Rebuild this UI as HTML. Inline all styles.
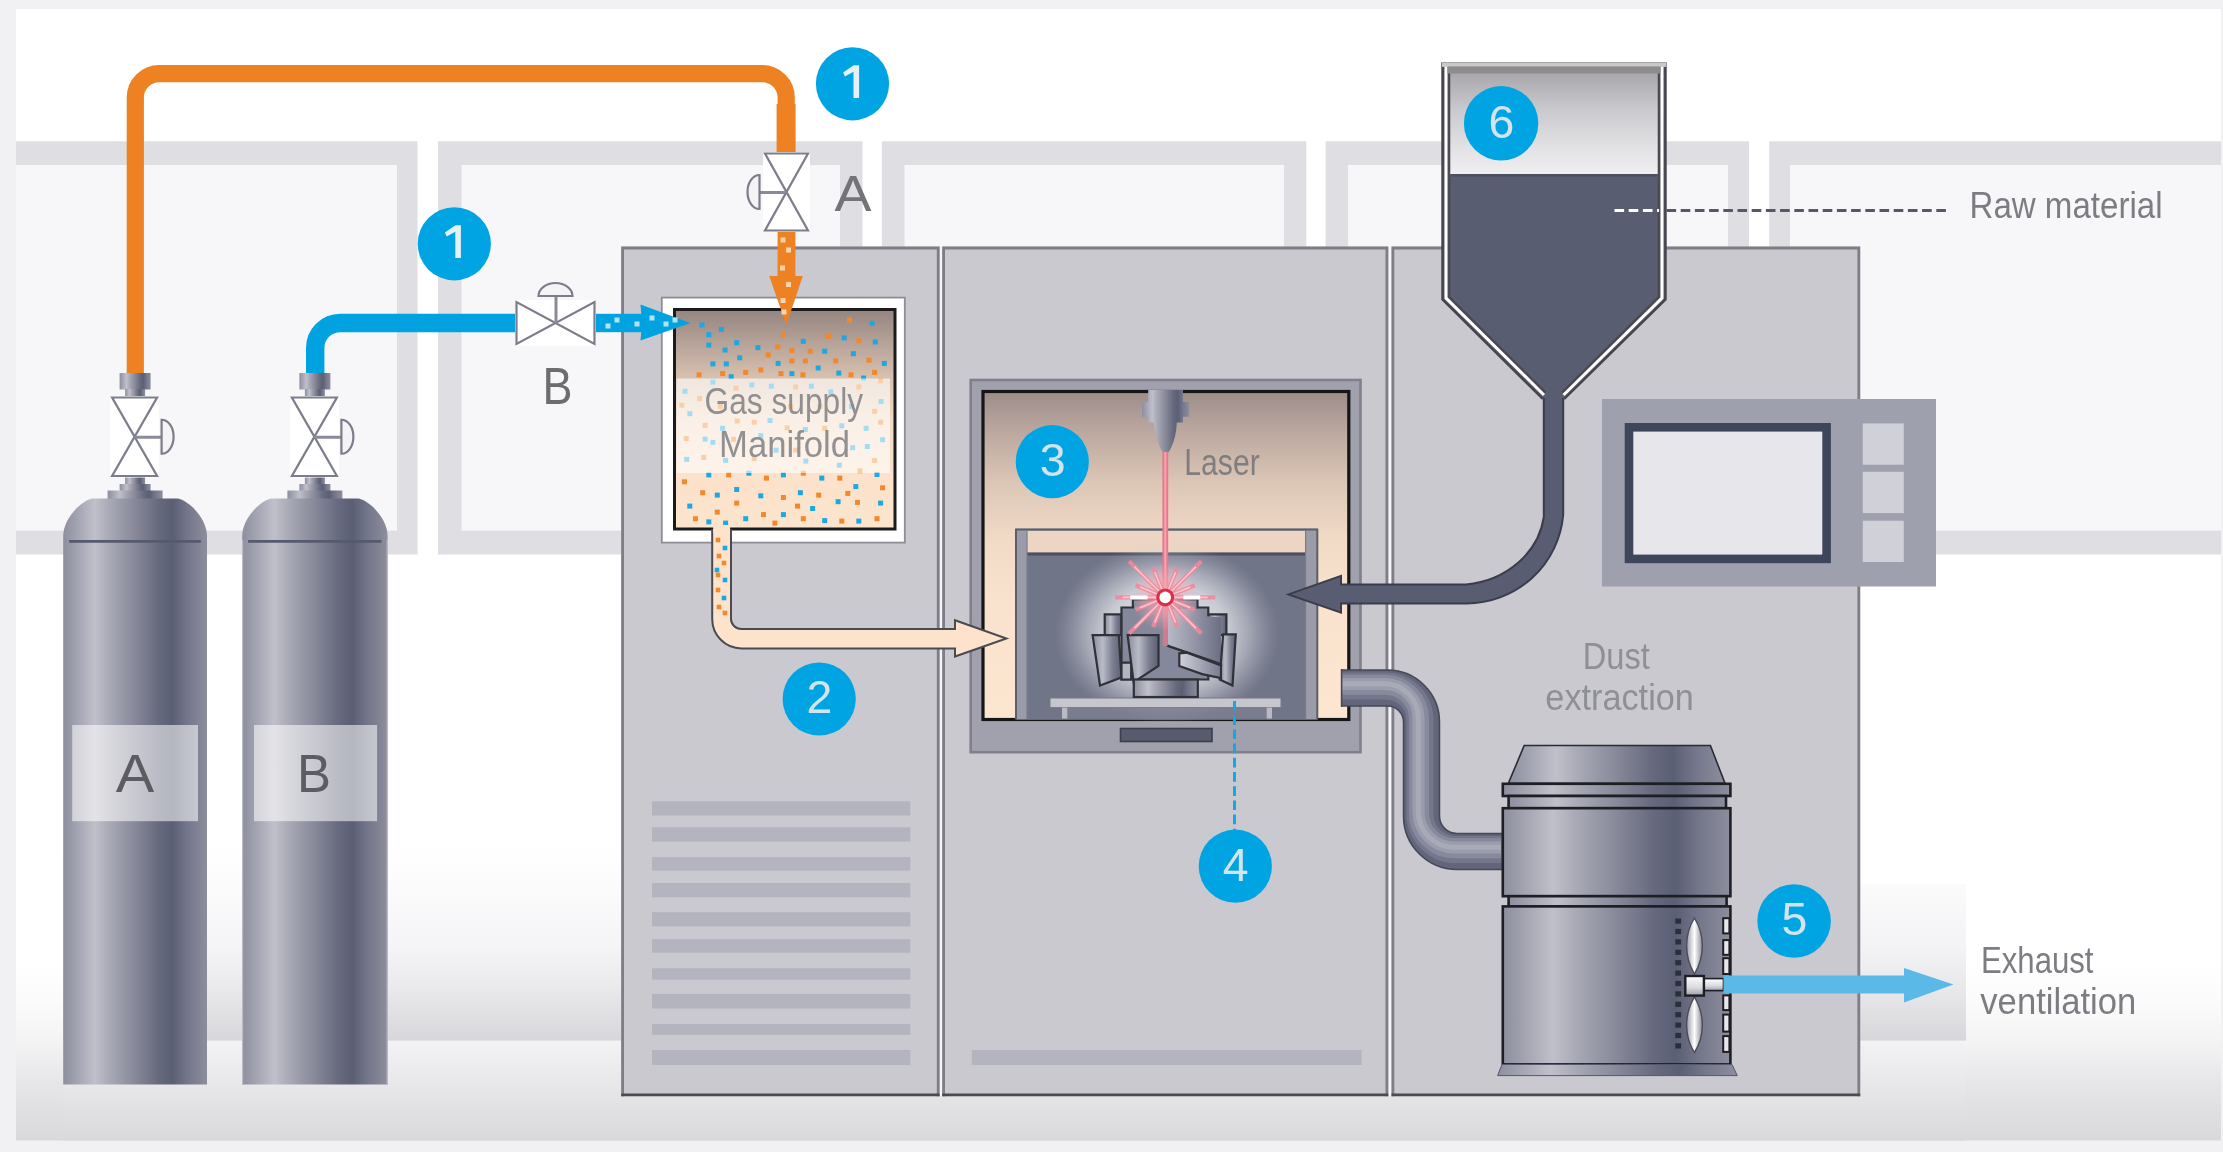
<!DOCTYPE html>
<html><head><meta charset="utf-8"><title>Laser additive manufacturing gas supply diagram</title>
<style>html,body{margin:0;padding:0;background:#f1f1f3;overflow:hidden}svg{display:block;will-change:transform;transform:translateZ(0)}</style></head>
<body>
<svg width="2223" height="1152" viewBox="0 0 2223 1152">
<defs>
<linearGradient id="gBottom" x1="0" y1="0" x2="0" y2="1">
<stop offset="0" stop-color="#ffffff"/><stop offset="0.356" stop-color="#ffffff"/>
<stop offset="0.5" stop-color="#fbfbfc"/><stop offset="0.641" stop-color="#f4f4f5"/>
<stop offset="0.8" stop-color="#e6e6e9"/><stop offset="1" stop-color="#d9d9dc"/></linearGradient>
<linearGradient id="gWall" x1="0" y1="0" x2="0" y2="1">
<stop offset="0" stop-color="#ffffff"/><stop offset="0.19" stop-color="#fcfcfd"/><stop offset="0.51" stop-color="#f5f5f7"/>
<stop offset="0.724" stop-color="#eaeaed"/><stop offset="1" stop-color="#d7d7db"/></linearGradient>
<linearGradient id="gWall2" x1="0" y1="0" x2="0" y2="1">
<stop offset="0" stop-color="#fbfbfc"/><stop offset="0.4" stop-color="#f3f3f5"/>
<stop offset="0.66" stop-color="#e9e9ec"/><stop offset="1" stop-color="#d7d7db"/></linearGradient>
<linearGradient id="gFloor" x1="0" y1="0" x2="0" y2="1">
<stop offset="0" stop-color="#f3f3f5"/><stop offset="0.5" stop-color="#e6e6e9"/>
<stop offset="1" stop-color="#d9d9dc"/></linearGradient>
<linearGradient id="gMetal" x1="0" y1="0" x2="1" y2="0"><stop offset="0" stop-color="#8e8f9e"/><stop offset="0.07" stop-color="#9d9eac"/>
<stop offset="0.22" stop-color="#c0c0ca"/><stop offset="0.32" stop-color="#a9aab6"/>
<stop offset="0.5" stop-color="#878899"/><stop offset="0.66" stop-color="#676a7e"/>
<stop offset="0.76" stop-color="#5b5f74"/><stop offset="0.86" stop-color="#73768a"/>
<stop offset="1" stop-color="#8d8e9d"/></linearGradient>
<linearGradient id="gManifold" x1="0" y1="0" x2="0" y2="1">
<stop offset="0" stop-color="#94857f"/><stop offset="0.15" stop-color="#b5a298"/>
<stop offset="0.32" stop-color="#d9c2b0"/><stop offset="0.5" stop-color="#f0d8c2"/>
<stop offset="0.75" stop-color="#fce2ca"/><stop offset="1" stop-color="#fde4cd"/></linearGradient>
<linearGradient id="gChamber" x1="0" y1="0" x2="0" y2="1">
<stop offset="0" stop-color="#9c8d8a"/><stop offset="0.12" stop-color="#bba79f"/>
<stop offset="0.28" stop-color="#dcc6b6"/><stop offset="0.45" stop-color="#f1dac6"/>
<stop offset="0.65" stop-color="#fae3ce"/><stop offset="1" stop-color="#fde6d0"/></linearGradient>
<linearGradient id="gHopTop" x1="0" y1="0" x2="0" y2="1">
<stop offset="0" stop-color="#a9a7ab"/><stop offset="0.35" stop-color="#c9c8cc"/>
<stop offset="0.75" stop-color="#e3e3e6"/><stop offset="1" stop-color="#efeff1"/></linearGradient>
<radialGradient id="gGlow" cx="0.5" cy="0.5" r="0.5">
<stop offset="0" stop-color="#ffffff" stop-opacity="0.95"/><stop offset="0.55" stop-color="#fafafc" stop-opacity="0.64"/>
<stop offset="0.72" stop-color="#f0f0f5" stop-opacity="0.42"/><stop offset="0.86" stop-color="#e0e1ea" stop-opacity="0.2"/>
<stop offset="1" stop-color="#c0c2d0" stop-opacity="0"/></radialGradient>
<linearGradient id="gBlade" x1="0" y1="0" x2="1" y2="0">
<stop offset="0" stop-color="#8a8c9c"/><stop offset="0.35" stop-color="#b9bbc8"/>
<stop offset="0.7" stop-color="#7b7e90"/><stop offset="1" stop-color="#5d6073"/></linearGradient>
<linearGradient id="gSweep" x1="0" y1="0" x2="1" y2="0">
<stop offset="0" stop-color="#b7b9c6"/><stop offset="0.5" stop-color="#9496a7"/>
<stop offset="1" stop-color="#6c6f83"/></linearGradient>
<linearGradient id="gSilver" x1="0" y1="0" x2="1" y2="0">
<stop offset="0" stop-color="#d0d1da"/><stop offset="0.5" stop-color="#a5a7b6"/>
<stop offset="1" stop-color="#787b8e"/></linearGradient>
<radialGradient id="gSpark" cx="0.5" cy="0.5" r="0.5">
<stop offset="0" stop-color="#f6a4b2" stop-opacity="0.9"/><stop offset="0.5" stop-color="#f4a9b6" stop-opacity="0.55"/>
<stop offset="1" stop-color="#f4a9b6" stop-opacity="0"/></radialGradient>
<linearGradient id="gFanBlade" x1="0" y1="0" x2="1" y2="0">
<stop offset="0" stop-color="#9a9ba6"/><stop offset="0.5" stop-color="#ffffff"/>
<stop offset="1" stop-color="#8a8b96"/></linearGradient>
<linearGradient id="gHub" x1="0" y1="0" x2="0" y2="1">
<stop offset="0" stop-color="#ffffff"/><stop offset="0.6" stop-color="#d9d9df"/>
<stop offset="1" stop-color="#9d9eaa"/></linearGradient>
</defs>
<rect x="0" y="0" width="2223" height="1152" fill="#f1f1f3"/>
<rect x="16" y="9" width="2205" height="1131.6" fill="#ffffff"/>
<rect x="16" y="860" width="2205" height="280.6" fill="url(#gBottom)"/>
<rect x="16" y="141.3" width="401.5" height="413.2" fill="#dfdfe3"/>
<rect x="16" y="165" width="381" height="365.6" fill="#f7f7f9"/>
<rect x="438" y="141.3" width="424.5" height="413.2" fill="#dfdfe3"/>
<rect x="461.5" y="165" width="378.5" height="365.6" fill="#f7f7f9"/>
<rect x="881.8" y="141.3" width="424.5" height="413.2" fill="#dfdfe3"/>
<rect x="904.5" y="165" width="379.5" height="365.6" fill="#f7f7f9"/>
<rect x="1325.6" y="141.3" width="423.4" height="413.2" fill="#dfdfe3"/>
<rect x="1348" y="165" width="380" height="365.6" fill="#f7f7f9"/>
<rect x="1769.2" y="141.3" width="451.8" height="413.2" fill="#dfdfe3"/>
<rect x="1790" y="165" width="431" height="365.6" fill="#f7f7f9"/>
<rect x="63" y="845" width="1797" height="195.8" fill="url(#gWall)"/>
<rect x="1860" y="883.7" width="106" height="157.1" fill="url(#gWall2)"/>
<rect x="63" y="1040.8" width="1903" height="99.8" fill="url(#gFloor)"/>
<path d="M135.3,380 V97.6 a24,24 0 0 1 24,-24 H762.2 a24,24 0 0 1 24,24 V160" fill="none" stroke="#ee8122" stroke-width="17.2"/>
<rect x="776.6" y="104" width="19" height="52" fill="#ee8122"/>
<path d="M315.2,380 V348 a25,25 0 0 1 25,-25 H520" fill="none" stroke="#00a3e0" stroke-width="18.4"/>
<rect x="119.6" y="373" width="31" height="16.5" fill="url(#gMetal)"/>
<rect x="125.1" y="389" width="20" height="8" fill="url(#gMetal)"/>
<rect x="125.1" y="476.5" width="20" height="8" fill="url(#gMetal)"/>
<rect x="119.6" y="484" width="31" height="7" fill="url(#gMetal)"/>
<rect x="107.6" y="490.5" width="55" height="9.5" fill="url(#gMetal)"/>
<path d="M63.2,1084.5 V536 C63.2,520 79,502 92,498.6 H178.2 C191.2,502 207,520 207,536 V1084.5 Z" fill="url(#gMetal)"/>
<path d="M69.1,541.3 H200.9" stroke="#565a6e" stroke-width="2.7"/>
<rect x="72.2" y="725" width="125.8" height="96.2" fill="#ffffff" fill-opacity="0.55"/>
<text x="134.9" y="791.8" font-family="Liberation Sans, sans-serif" font-size="53.5" fill="#5c5c62" text-anchor="middle" textLength="38.5" lengthAdjust="spacingAndGlyphs">A</text>
<rect x="110.1" y="396" width="49" height="81.5" fill="#ffffff"/>
<path d="M112.1,397.5 H157.1 L112.1,476 H157.1 Z" fill="#ffffff" stroke="#7c7d8a" stroke-width="2.2" stroke-linejoin="miter"/>
<path d="M134.6,437.25 H161.6" stroke="#8a8b98" stroke-width="3" fill="none"/>
<path d="M161.6,419.75 V453.75 A12,17 0 0 0 161.6,419.75 Z" fill="#f4f4f6" stroke="#7c7d8a" stroke-width="2.2"/>
<rect x="299.4" y="373" width="31" height="16.5" fill="url(#gMetal)"/>
<rect x="304.9" y="389" width="20" height="8" fill="url(#gMetal)"/>
<rect x="304.9" y="476.5" width="20" height="8" fill="url(#gMetal)"/>
<rect x="299.4" y="484" width="31" height="7" fill="url(#gMetal)"/>
<rect x="287.4" y="490.5" width="55" height="9.5" fill="url(#gMetal)"/>
<path d="M242.2,1084.5 V536 C242.2,520 258,502 271,498.6 H358.8 C371.8,502 387.6,520 387.6,536 V1084.5 Z" fill="url(#gMetal)"/>
<path d="M248.1,541.3 H381.5" stroke="#565a6e" stroke-width="2.7"/>
<rect x="254" y="725" width="123.1" height="96.2" fill="#ffffff" fill-opacity="0.55"/>
<text x="314.1" y="791.8" font-family="Liberation Sans, sans-serif" font-size="53.5" fill="#5c5c62" text-anchor="middle" textLength="34" lengthAdjust="spacingAndGlyphs">B</text>
<rect x="289.9" y="396" width="49" height="81.5" fill="#ffffff"/>
<path d="M291.9,397.5 H336.9 L291.9,476 H336.9 Z" fill="#ffffff" stroke="#7c7d8a" stroke-width="2.2" stroke-linejoin="miter"/>
<path d="M314.4,437.25 H341.4" stroke="#8a8b98" stroke-width="3" fill="none"/>
<path d="M341.4,419.75 V453.75 A12,17 0 0 0 341.4,419.75 Z" fill="#f4f4f6" stroke="#7c7d8a" stroke-width="2.2"/>
<path d="M242.6,540 V1084.5 M387.2,540 V1084.5" stroke="#b9bac4" stroke-width="1.2" fill="none"/>
<rect x="938" y="246.6" width="6" height="849.6" fill="#f6f6f8"/>
<rect x="1386" y="246.6" width="7" height="849.6" fill="#f6f6f8"/>
<rect x="621.2" y="246.6" width="318.4" height="849.6" fill="#c9c9cf"/><path d="M622.6,1096.2 V248 H938.2 V1096.2" fill="none" stroke="#7e7e86" stroke-width="2.8"/><path d="M621.2,1094.8 H939.6" stroke="#4b4b52" stroke-width="2.8"/>
<rect x="942.2" y="246.6" width="446.1" height="849.6" fill="#c9c9cf"/><path d="M943.6,1096.2 V248 H1386.9 V1096.2" fill="none" stroke="#7e7e86" stroke-width="2.8"/><path d="M942.2,1094.8 H1388.3" stroke="#4b4b52" stroke-width="2.8"/>
<rect x="1391.5" y="246.6" width="468.7" height="849.6" fill="#c9c9cf"/><path d="M1392.9,1096.2 V248 H1858.8 V1096.2" fill="none" stroke="#7e7e86" stroke-width="2.8"/><path d="M1391.5,1094.8 H1860.2" stroke="#4b4b52" stroke-width="2.8"/>
<rect x="652" y="801.3" width="258.3" height="14.2" fill="#b4b4be"/>
<rect x="652" y="827.3" width="258.3" height="14.2" fill="#b4b4be"/>
<rect x="652" y="857.1" width="258.3" height="13.5" fill="#b4b4be"/>
<rect x="652" y="883" width="258.3" height="14.3" fill="#b4b4be"/>
<rect x="652" y="912.2" width="258.3" height="14.2" fill="#b4b4be"/>
<rect x="652" y="939.2" width="258.3" height="13.5" fill="#b4b4be"/>
<rect x="652" y="968.3" width="258.3" height="11.4" fill="#b4b4be"/>
<rect x="652" y="993.9" width="258.3" height="14.6" fill="#b4b4be"/>
<rect x="652" y="1024.1" width="258.3" height="10.7" fill="#b4b4be"/>
<rect x="652" y="1050" width="258.3" height="15" fill="#b4b4be"/>
<rect x="971.8" y="1050" width="389.8" height="15" fill="#b4b4be"/>
<rect x="661.8" y="297.6" width="243" height="245" fill="#ffffff" stroke="#8e8e97" stroke-width="1.8"/>
<rect x="674.5" y="309.5" width="220.5" height="219.5" fill="url(#gManifold)" stroke="#1b1b1d" stroke-width="3"/>
<rect x="699.5" y="322.5" width="5" height="5" fill="#1fa7e0"/>
<rect x="718.9" y="326.8" width="5" height="5" fill="#1fa7e0"/>
<rect x="706.3" y="332.2" width="5" height="5" fill="#1fa7e0"/>
<rect x="706.3" y="342.6" width="5" height="5" fill="#1fa7e0"/>
<rect x="722.6" y="347.5" width="5" height="5" fill="#1fa7e0"/>
<rect x="734.2" y="340.2" width="5" height="5" fill="#1fa7e0"/>
<rect x="737.2" y="355.3" width="5" height="5" fill="#1fa7e0"/>
<rect x="755.4" y="345.1" width="5" height="5" fill="#1fa7e0"/>
<rect x="710.4" y="361.4" width="5" height="5" fill="#1fa7e0"/>
<rect x="723.8" y="361.4" width="5" height="5" fill="#1fa7e0"/>
<rect x="728.7" y="374.2" width="5" height="5" fill="#1fa7e0"/>
<rect x="775.6" y="360.9" width="5" height="5" fill="#1fa7e0"/>
<rect x="789.4" y="371.1" width="5" height="5" fill="#1fa7e0"/>
<rect x="800.8" y="338.8" width="5" height="5" fill="#1fa7e0"/>
<rect x="815.7" y="365.5" width="5" height="5" fill="#1fa7e0"/>
<rect x="822.2" y="348.7" width="5" height="5" fill="#1fa7e0"/>
<rect x="841.7" y="335.4" width="5" height="5" fill="#1fa7e0"/>
<rect x="850.9" y="351.2" width="5" height="5" fill="#1fa7e0"/>
<rect x="869.6" y="320.8" width="5" height="5" fill="#1fa7e0"/>
<rect x="872.8" y="339.5" width="5" height="5" fill="#1fa7e0"/>
<rect x="881.8" y="360.9" width="5" height="5" fill="#1fa7e0"/>
<rect x="836.3" y="370.6" width="5" height="5" fill="#1fa7e0"/>
<rect x="861.1" y="375.5" width="5" height="5" fill="#1fa7e0"/>
<rect x="847.0" y="317.6" width="5" height="5" fill="#f0882c"/>
<rect x="780.9" y="332.2" width="5" height="5" fill="#f0882c"/>
<rect x="825.9" y="333.9" width="5" height="5" fill="#f0882c"/>
<rect x="856.3" y="338.3" width="5" height="5" fill="#f0882c"/>
<rect x="775.3" y="344.3" width="5" height="5" fill="#f0882c"/>
<rect x="789.4" y="348.0" width="5" height="5" fill="#f0882c"/>
<rect x="807.7" y="348.7" width="5" height="5" fill="#f0882c"/>
<rect x="765.8" y="352.4" width="5" height="5" fill="#f0882c"/>
<rect x="789.4" y="358.4" width="5" height="5" fill="#f0882c"/>
<rect x="802.8" y="358.4" width="5" height="5" fill="#f0882c"/>
<rect x="833.2" y="358.4" width="5" height="5" fill="#f0882c"/>
<rect x="866.5" y="357.7" width="5" height="5" fill="#f0882c"/>
<rect x="758.3" y="367.4" width="5" height="5" fill="#f0882c"/>
<rect x="743.2" y="369.9" width="5" height="5" fill="#f0882c"/>
<rect x="720.1" y="371.1" width="5" height="5" fill="#f0882c"/>
<rect x="696.6" y="372.3" width="5" height="5" fill="#f0882c"/>
<rect x="778.5" y="371.1" width="5" height="5" fill="#f0882c"/>
<rect x="800.4" y="372.3" width="5" height="5" fill="#f0882c"/>
<rect x="848.5" y="372.3" width="5" height="5" fill="#f0882c"/>
<rect x="872.1" y="369.9" width="5" height="5" fill="#f0882c"/>
<rect x="682.5" y="388.8" width="5" height="5" fill="#1fa7e0"/>
<rect x="697.1" y="396.1" width="5" height="5" fill="#f0882c"/>
<rect x="710.4" y="379.6" width="5" height="5" fill="#1fa7e0"/>
<rect x="749.3" y="382.5" width="5" height="5" fill="#1fa7e0"/>
<rect x="768.8" y="383.7" width="5" height="5" fill="#1fa7e0"/>
<rect x="808.9" y="383.7" width="5" height="5" fill="#1fa7e0"/>
<rect x="828.3" y="389.3" width="5" height="5" fill="#1fa7e0"/>
<rect x="856.3" y="384.5" width="5" height="5" fill="#f0882c"/>
<rect x="878.1" y="378.4" width="5" height="5" fill="#f0882c"/>
<rect x="878.6" y="399.0" width="5" height="5" fill="#1fa7e0"/>
<rect x="679.3" y="402.7" width="5" height="5" fill="#f0882c"/>
<rect x="687.3" y="411.2" width="5" height="5" fill="#1fa7e0"/>
<rect x="702.6" y="422.9" width="5" height="5" fill="#f0882c"/>
<rect x="720.1" y="425.8" width="5" height="5" fill="#1fa7e0"/>
<rect x="734.7" y="418.5" width="5" height="5" fill="#f0882c"/>
<rect x="751.7" y="419.7" width="5" height="5" fill="#f0882c"/>
<rect x="767.5" y="418.0" width="5" height="5" fill="#1fa7e0"/>
<rect x="784.6" y="425.3" width="5" height="5" fill="#f0882c"/>
<rect x="802.8" y="427.0" width="5" height="5" fill="#1fa7e0"/>
<rect x="822.2" y="425.8" width="5" height="5" fill="#f0882c"/>
<rect x="839.3" y="423.3" width="5" height="5" fill="#1fa7e0"/>
<rect x="863.6" y="425.8" width="5" height="5" fill="#1fa7e0"/>
<rect x="878.1" y="419.7" width="5" height="5" fill="#f0882c"/>
<rect x="872.1" y="408.8" width="5" height="5" fill="#f0882c"/>
<rect x="683.7" y="436.0" width="5" height="5" fill="#f0882c"/>
<rect x="702.6" y="436.7" width="5" height="5" fill="#1fa7e0"/>
<rect x="710.4" y="439.9" width="5" height="5" fill="#1fa7e0"/>
<rect x="731.1" y="436.7" width="5" height="5" fill="#f0882c"/>
<rect x="758.3" y="433.1" width="5" height="5" fill="#1fa7e0"/>
<rect x="773.6" y="447.7" width="5" height="5" fill="#1fa7e0"/>
<rect x="793.1" y="447.7" width="5" height="5" fill="#f0882c"/>
<rect x="864.8" y="444.0" width="5" height="5" fill="#1fa7e0"/>
<rect x="880.1" y="437.2" width="5" height="5" fill="#1fa7e0"/>
<rect x="850.2" y="445.2" width="5" height="5" fill="#1fa7e0"/>
<rect x="684.2" y="456.9" width="5" height="5" fill="#1fa7e0"/>
<rect x="701.2" y="454.9" width="5" height="5" fill="#f0882c"/>
<rect x="723.1" y="457.9" width="5" height="5" fill="#1fa7e0"/>
<rect x="751.7" y="456.2" width="5" height="5" fill="#f0882c"/>
<rect x="803.3" y="458.6" width="5" height="5" fill="#1fa7e0"/>
<rect x="836.8" y="462.7" width="5" height="5" fill="#1fa7e0"/>
<rect x="872.1" y="457.9" width="5" height="5" fill="#f0882c"/>
<rect x="857.5" y="468.3" width="5" height="5" fill="#f0882c"/>
<rect x="733.5" y="385.7" width="5" height="5" fill="#f0882c"/>
<rect x="793.1" y="384.5" width="5" height="5" fill="#f0882c"/>
<rect x="817.4" y="403.9" width="5" height="5" fill="#f0882c"/>
<rect x="788.2" y="403.9" width="5" height="5" fill="#f0882c"/>
<rect x="717.7" y="403.9" width="5" height="5" fill="#f0882c"/>
<rect x="849.0" y="403.9" width="5" height="5" fill="#1fa7e0"/>
<rect x="706.3" y="472.4" width="5" height="5" fill="#1fa7e0"/>
<rect x="726.2" y="472.4" width="5" height="5" fill="#f0882c"/>
<rect x="746.4" y="470.7" width="5" height="5" fill="#1fa7e0"/>
<rect x="763.9" y="475.6" width="5" height="5" fill="#f0882c"/>
<rect x="780.9" y="472.4" width="5" height="5" fill="#1fa7e0"/>
<rect x="800.8" y="470.7" width="5" height="5" fill="#f0882c"/>
<rect x="819.3" y="475.6" width="5" height="5" fill="#1fa7e0"/>
<rect x="837.3" y="475.6" width="5" height="5" fill="#f0882c"/>
<rect x="874.5" y="472.0" width="5" height="5" fill="#1fa7e0"/>
<rect x="682.0" y="479.3" width="5" height="5" fill="#f0882c"/>
<rect x="700.2" y="490.2" width="5" height="5" fill="#f0882c"/>
<rect x="714.8" y="492.6" width="5" height="5" fill="#1fa7e0"/>
<rect x="734.2" y="487.0" width="5" height="5" fill="#1fa7e0"/>
<rect x="734.2" y="500.6" width="5" height="5" fill="#f0882c"/>
<rect x="758.3" y="493.3" width="5" height="5" fill="#1fa7e0"/>
<rect x="780.9" y="495.0" width="5" height="5" fill="#f0882c"/>
<rect x="797.9" y="490.2" width="5" height="5" fill="#1fa7e0"/>
<rect x="816.2" y="492.6" width="5" height="5" fill="#f0882c"/>
<rect x="835.6" y="499.2" width="5" height="5" fill="#1fa7e0"/>
<rect x="845.3" y="490.9" width="5" height="5" fill="#f0882c"/>
<rect x="853.3" y="484.1" width="5" height="5" fill="#1fa7e0"/>
<rect x="855.0" y="499.9" width="5" height="5" fill="#f0882c"/>
<rect x="880.1" y="485.3" width="5" height="5" fill="#f0882c"/>
<rect x="878.1" y="500.6" width="5" height="5" fill="#1fa7e0"/>
<rect x="687.3" y="503.6" width="5" height="5" fill="#1fa7e0"/>
<rect x="692.9" y="516.2" width="5" height="5" fill="#f0882c"/>
<rect x="706.3" y="519.4" width="5" height="5" fill="#1fa7e0"/>
<rect x="714.8" y="509.6" width="5" height="5" fill="#f0882c"/>
<rect x="723.1" y="520.6" width="5" height="5" fill="#1fa7e0"/>
<rect x="743.2" y="516.2" width="5" height="5" fill="#1fa7e0"/>
<rect x="761.0" y="512.1" width="5" height="5" fill="#f0882c"/>
<rect x="772.4" y="520.6" width="5" height="5" fill="#f0882c"/>
<rect x="780.9" y="512.1" width="5" height="5" fill="#1fa7e0"/>
<rect x="795.0" y="503.6" width="5" height="5" fill="#f0882c"/>
<rect x="800.8" y="516.2" width="5" height="5" fill="#f0882c"/>
<rect x="810.1" y="506.0" width="5" height="5" fill="#1fa7e0"/>
<rect x="822.2" y="518.1" width="5" height="5" fill="#1fa7e0"/>
<rect x="839.3" y="518.6" width="5" height="5" fill="#f0882c"/>
<rect x="856.3" y="518.6" width="5" height="5" fill="#1fa7e0"/>
<rect x="874.5" y="516.2" width="5" height="5" fill="#f0882c"/>
<rect x="676.5" y="378.5" width="213.5" height="94.5" fill="#ffffff" fill-opacity="0.6"/>
<text x="783.8" y="413.7" font-family="Liberation Sans, sans-serif" font-size="36" fill="#7a7a7e" fill-opacity="0.82" text-anchor="middle" textLength="158.5" lengthAdjust="spacingAndGlyphs">Gas supply</text>
<text x="784.6" y="457.4" font-family="Liberation Sans, sans-serif" font-size="36" fill="#7a7a7e" fill-opacity="0.82" text-anchor="middle" textLength="131" lengthAdjust="spacingAndGlyphs">Manifold</text>
<rect x="777.6" y="228" width="17.8" height="50" fill="#ee8122"/>
<path d="M769.3,276 H802.8 L786.3,325 Z" fill="#ee8122"/>
<rect x="780.5" y="237.5" width="5" height="5" fill="#fbd3ad"/>
<rect x="786" y="247.5" width="5" height="5" fill="#fbd3ad"/>
<rect x="780" y="265.5" width="5" height="5" fill="#fbd3ad"/>
<rect x="786" y="282" width="5" height="5" fill="#fbd3ad"/>
<rect x="780.5" y="298" width="5" height="5" fill="#fbd3ad"/>
<rect x="781.5" y="309.5" width="5" height="5" fill="#fbd3ad"/>
<rect x="594" y="313.8" width="48" height="18.4" fill="#00a3e0"/>
<path d="M640.5,304.5 L690.5,323 L640.5,340.5 L642,323 Z" fill="#00a3e0"/>
<rect x="605.5" y="323.5" width="5" height="5" fill="#b5e1f6"/>
<rect x="614.5" y="317.5" width="5" height="5" fill="#b5e1f6"/>
<rect x="634.5" y="321.5" width="5" height="5" fill="#b5e1f6"/>
<rect x="649.5" y="315.5" width="5" height="5" fill="#b5e1f6"/>
<rect x="663.5" y="321.5" width="5" height="5" fill="#b5e1f6"/>
<rect x="672.5" y="317.5" width="5" height="5" fill="#b5e1f6"/>
<rect x="970.7" y="380" width="389.8" height="372.2" fill="#a0a1ad" stroke="#7f808b" stroke-width="2.6"/>
<rect x="983" y="391.5" width="365.8" height="328" fill="url(#gChamber)" stroke="#161616" stroke-width="3.2"/>
<rect x="1120.5" y="728.5" width="91.5" height="13" fill="#585b6e" stroke="#3d3f4c" stroke-width="1.6"/>
<rect x="1016" y="528.6" width="301.3" height="191" fill="#9b9caa"/>
<rect x="1027" y="531" width="278.6" height="22" fill="#ecd6c3"/>
<rect x="1027" y="552.7" width="278.6" height="166.5" fill="#717588"/>
<path d="M1016,719.4 V529.6 H1317.3 V719.4" fill="none" stroke="#5d5e69" stroke-width="2"/>
<path d="M1027,554 H1305.6" stroke="#4c4f5e" stroke-width="3"/>
<path d="M1027,531 V719 M1305.6,531 V719" stroke="#7b7c8a" stroke-width="1.2" fill="none"/>
<ellipse cx="1167" cy="634" rx="112" ry="92" fill="url(#gGlow)"/>
<rect x="1050" y="698" width="231" height="9.6" fill="#c6c6ce" stroke="#777986" stroke-width="1"/>
<rect x="1062" y="707.6" width="5.5" height="11" fill="#b9bac4"/><rect x="1266.5" y="707.6" width="5.5" height="11" fill="#b9bac4"/>
<rect x="1067.5" y="707.6" width="199" height="11" fill="#7d8092" fill-opacity="0.7"/>
<path d="M1104.7,614.3 L1121.5,614.3 L1121.5,635.1 L1104.7,635.1 Z" fill="url(#gBlade)" stroke="#30323a" stroke-width="2.2" stroke-linejoin="miter"/>
<path d="M1208.3,614.3 L1226.4,614.3 L1226.4,635.1 L1208.3,635.1 Z" fill="url(#gBlade)" stroke="#30323a" stroke-width="2.2" stroke-linejoin="miter"/>
<path d="M1132.9,599.5 L1197.5,599.5 L1197.5,607.5 L1208.3,607.5 L1208.3,679.5 L1121.5,679.5 L1121.5,607.5 L1132.9,607.5 Z" fill="#85879a" stroke="#30323a" stroke-width="2.2" stroke-linejoin="miter"/>
<path d="M1167.9,608.9 L1206.9,608.9 L1206.9,616.3 L1221.0,617.6 L1221.0,663.3 L1167.9,645.9 Z" fill="url(#gSweep)"/>
<path d="M1092.6,635.1 L1118.8,635.1 L1121.5,677.5 L1100.0,685.5 Z" fill="url(#gBlade)" stroke="#30323a" stroke-width="2.2" stroke-linejoin="miter"/>
<path d="M1223.1,634.4 L1235.8,634.4 L1232.5,685.5 L1219.7,679.5 Z" fill="url(#gBlade)" stroke="#30323a" stroke-width="2.2" stroke-linejoin="miter"/>
<path d="M1179.3,653.3 L1187.4,652.6 L1221.0,665.4 L1221.0,678.1 L1202.2,674.1 L1179.3,666.0 Z" fill="url(#gSilver)" stroke="#30323a" stroke-width="2.2" stroke-linejoin="miter"/>
<path d="M1167.9,645.9 L1221.0,664.0 L1221.0,664.2 L1167.9,646.0 Z" fill="none" stroke="#30323a" stroke-width="2.4"/>
<path d="M1121.5,662.7 L1131.2,662.7 L1131.2,679.5 L1121.5,679.5 Z" fill="#b3b5c2" stroke="#30323a" stroke-width="2.2" stroke-linejoin="miter"/>
<path d="M1127.6,635.1 L1158.5,635.1 L1158.5,666.0 L1133.6,682.2 Z" fill="url(#gBlade)" stroke="#30323a" stroke-width="2.2" stroke-linejoin="miter"/>
<rect x="1133.8" y="679.5" width="64" height="17.5" fill="url(#gMetal)" stroke="#30323a" stroke-width="2.2" stroke-linejoin="miter"/>
<path d="M1148.2,390 H1183 V402 H1189.2 V416.8 H1183 V422.5 H1176.8 Q1176.5,436 1170.8,448.5 L1168.5,452.3 H1163 L1160.5,448.5 Q1154.4,436 1153.9,422.5 H1148.2 V416.8 H1142 V402 H1148.2 Z" fill="url(#gMetal)"/>
<rect x="1162.4" y="452" width="5.8" height="146" fill="#e9788c"/>
<rect x="1164.3" y="452" width="2" height="146" fill="#f3a5b1"/>
<rect x="1162.8" y="598" width="5" height="48" fill="#e9788c" fill-opacity="0.75"/>
<circle cx="1165.2" cy="597.4" r="34" fill="url(#gSpark)"/>
<path d="M1165.2,597.4 L1215.2,597.4" stroke="#ee8a9c" stroke-width="4.2" stroke-opacity="0.9"/>
<path d="M1172.7,597.4 L1207.7,597.4" stroke="#f9cdd5" stroke-width="1.6" stroke-opacity="0.9"/>
<path d="M1165.2,597.4 L1194.8,609.6" stroke="#ee8a9c" stroke-width="4.2" stroke-opacity="0.9"/>
<path d="M1169.6,599.2 L1190.3,607.8" stroke="#f9cdd5" stroke-width="1.6" stroke-opacity="0.9"/>
<path d="M1165.2,597.4 L1201.3,633.5" stroke="#ee8a9c" stroke-width="4.2" stroke-opacity="0.9"/>
<path d="M1170.6,602.8 L1195.9,628.1" stroke="#f9cdd5" stroke-width="1.6" stroke-opacity="0.9"/>
<path d="M1165.2,597.4 L1177.4,627.0" stroke="#ee8a9c" stroke-width="4.2" stroke-opacity="0.9"/>
<path d="M1167.0,601.8 L1175.6,622.5" stroke="#f9cdd5" stroke-width="1.6" stroke-opacity="0.9"/>
<path d="M1165.2,597.4 L1153.0,627.0" stroke="#ee8a9c" stroke-width="4.2" stroke-opacity="0.9"/>
<path d="M1163.4,601.8 L1154.8,622.5" stroke="#f9cdd5" stroke-width="1.6" stroke-opacity="0.9"/>
<path d="M1165.2,597.4 L1129.1,633.5" stroke="#ee8a9c" stroke-width="4.2" stroke-opacity="0.9"/>
<path d="M1159.8,602.8 L1134.5,628.1" stroke="#f9cdd5" stroke-width="1.6" stroke-opacity="0.9"/>
<path d="M1165.2,597.4 L1135.6,609.6" stroke="#ee8a9c" stroke-width="4.2" stroke-opacity="0.9"/>
<path d="M1160.8,599.2 L1140.1,607.8" stroke="#f9cdd5" stroke-width="1.6" stroke-opacity="0.9"/>
<path d="M1165.2,597.4 L1115.2,597.4" stroke="#ee8a9c" stroke-width="4.2" stroke-opacity="0.9"/>
<path d="M1157.7,597.4 L1122.7,597.4" stroke="#f9cdd5" stroke-width="1.6" stroke-opacity="0.9"/>
<path d="M1165.2,597.4 L1135.6,585.2" stroke="#ee8a9c" stroke-width="4.2" stroke-opacity="0.9"/>
<path d="M1160.8,595.6 L1140.1,587.0" stroke="#f9cdd5" stroke-width="1.6" stroke-opacity="0.9"/>
<path d="M1165.2,597.4 L1129.1,561.3" stroke="#ee8a9c" stroke-width="4.2" stroke-opacity="0.9"/>
<path d="M1159.8,592.0 L1134.5,566.7" stroke="#f9cdd5" stroke-width="1.6" stroke-opacity="0.9"/>
<path d="M1165.2,597.4 L1153.0,567.8" stroke="#ee8a9c" stroke-width="4.2" stroke-opacity="0.9"/>
<path d="M1163.4,593.0 L1154.8,572.3" stroke="#f9cdd5" stroke-width="1.6" stroke-opacity="0.9"/>
<path d="M1165.2,597.4 L1177.4,567.8" stroke="#ee8a9c" stroke-width="4.2" stroke-opacity="0.9"/>
<path d="M1167.0,593.0 L1175.6,572.3" stroke="#f9cdd5" stroke-width="1.6" stroke-opacity="0.9"/>
<path d="M1165.2,597.4 L1201.3,561.3" stroke="#ee8a9c" stroke-width="4.2" stroke-opacity="0.9"/>
<path d="M1170.6,592.0 L1195.9,566.7" stroke="#f9cdd5" stroke-width="1.6" stroke-opacity="0.9"/>
<path d="M1165.2,597.4 L1194.8,585.2" stroke="#ee8a9c" stroke-width="4.2" stroke-opacity="0.9"/>
<path d="M1169.6,595.6 L1190.3,587.0" stroke="#f9cdd5" stroke-width="1.6" stroke-opacity="0.9"/>
<rect x="1130.3" y="595.4" width="17.4" height="4" fill="#ffffff"/><rect x="1183.4" y="595.4" width="16.8" height="4" fill="#ffffff"/>
<circle cx="1165.2" cy="597.4" r="9" fill="#d8304c"/><circle cx="1165.2" cy="597.4" r="5.8" fill="#ffffff"/>
<path d="M712.2,529 V619 A29.2,29.4 0 0 0 741.4,648.4 H955 V656.5 L1006.4,638.5 L955,620.2 V629 H741.4 A10.4,10 0 0 1 731,619 V529" fill="#fde3cc" stroke="#4a4a52" stroke-width="2" stroke-linejoin="miter"/>
<rect x="713.2" y="525" width="16.8" height="8" fill="#fde3cc"/>
<rect x="715.7" y="537.7" width="4.6" height="4.6" fill="#f0882c"/>
<rect x="722.7" y="545.7" width="4.6" height="4.6" fill="#1fa7e0"/>
<rect x="716.7" y="553.7" width="4.6" height="4.6" fill="#f0882c"/>
<rect x="714.7" y="567.7" width="4.6" height="4.6" fill="#1fa7e0"/>
<rect x="721.7" y="560.7" width="4.6" height="4.6" fill="#f0882c"/>
<rect x="722.7" y="577.7" width="4.6" height="4.6" fill="#1fa7e0"/>
<rect x="715.7" y="587.7" width="4.6" height="4.6" fill="#f0882c"/>
<rect x="721.7" y="595.7" width="4.6" height="4.6" fill="#1fa7e0"/>
<rect x="716.7" y="604.7" width="4.6" height="4.6" fill="#f0882c"/>
<rect x="722.7" y="610.7" width="4.6" height="4.6" fill="#f0882c"/>
<rect x="715.7" y="572.7" width="4.6" height="4.6" fill="#f0882c"/>
<path d="M1543.8,398 V517 A87.7,77.8 0 0 1 1466,584.4 H1341 V575.8 L1288.4,594.4 L1341,612.6 V603.4 H1466 A97,96.8 0 0 0 1563.2,514.6 V398" fill="#585d71" stroke="#3a3d4b" stroke-width="2" stroke-linejoin="miter"/>
<path d="M1342,688 H1387.5 A34,34 0 0 1 1421.5,722 V816 A35.5,35.5 0 0 0 1457,851.5 H1504" fill="none" stroke="#454857" stroke-width="37.5" transform="translate(0,0)"/>
<path d="M1342,688 H1387.5 A34,34 0 0 1 1421.5,722 V816 A35.5,35.5 0 0 0 1457,851.5 H1504" fill="none" stroke="#63667a" stroke-width="34.3" transform="translate(0,0)"/>
<path d="M1342,688 H1387.5 A34,34 0 0 1 1421.5,722 V816 A35.5,35.5 0 0 0 1457,851.5 H1504" fill="none" stroke="#74778c" stroke-width="27" transform="translate(-1.5,-2)"/>
<path d="M1342,688 H1387.5 A34,34 0 0 1 1421.5,722 V816 A35.5,35.5 0 0 0 1457,851.5 H1504" fill="none" stroke="#878a9d" stroke-width="20" transform="translate(-2.5,-3.2)"/>
<path d="M1342,688 H1387.5 A34,34 0 0 1 1421.5,722 V816 A35.5,35.5 0 0 0 1457,851.5 H1504" fill="none" stroke="#9b9dae" stroke-width="12" transform="translate(-3,-4)"/>
<path d="M1342,688 H1387.5 A34,34 0 0 1 1421.5,722 V816 A35.5,35.5 0 0 0 1457,851.5 H1504" fill="none" stroke="#a8aab8" stroke-width="5" transform="translate(-3.2,-4.3)"/>
<rect x="1336" y="662" width="5.6" height="52" fill="#fde5cf"/>
<path d="M1341.6,669 V707" stroke="#454857" stroke-width="1.6"/>
<circle cx="1052.3" cy="461.7" r="36.6" fill="#00a4e2"/><text x="1052.6" y="476.1" font-family="Liberation Sans, sans-serif" font-size="46.5" fill="#d3e4ee" text-anchor="middle">3</text>
<text x="1184.3" y="474.8" font-family="Liberation Sans, sans-serif" font-size="36" fill="#77777b" fill-opacity="0.9" textLength="75.5" lengthAdjust="spacingAndGlyphs">Laser</text>
<path d="M1234.5,701 V832" stroke="#18a6e2" stroke-width="3" stroke-dasharray="9.7,4.5" fill="none"/>
<circle cx="1235.3" cy="866.2" r="36.6" fill="#00a4e2"/><text x="1235.6" y="880.6" font-family="Liberation Sans, sans-serif" font-size="46.5" fill="#d3e4ee" text-anchor="middle">4</text>
<circle cx="819.2" cy="699" r="36.6" fill="#00a4e2"/><text x="819.5" y="713.4" font-family="Liberation Sans, sans-serif" font-size="46.5" fill="#d3e4ee" text-anchor="middle">2</text>
<circle cx="852.5" cy="83.8" r="36.6" fill="#00a4e2"/><path d="M853.7,65.2 H859.1 V98 H853.5 V71.8 L844.9,76.4 L843.1,72.4 Z" fill="#e3f1f8"/>
<circle cx="454.3" cy="243.8" r="36.6" fill="#00a4e2"/><path d="M455.5,225.2 H460.9 V258 H455.3 V231.8 L446.7,236.4 L444.9,232.4 Z" fill="#e3f1f8"/>
<rect x="763" y="152" width="47" height="80" fill="#ffffff"/>
<path d="M765,153.5 H808 L765,230.5 H808 Z" fill="#ffffff" stroke="#7c7d8a" stroke-width="2.2" stroke-linejoin="miter"/>
<path d="M786.5,192.5 H759.5" stroke="#8a8b98" stroke-width="3" fill="none"/>
<path d="M759.5,175 V209 A12,17 0 0 1 759.5,175 Z" fill="#f4f4f6" stroke="#7c7d8a" stroke-width="2.2"/>
<text x="853" y="211" font-family="Liberation Sans, sans-serif" font-size="50" fill="#737378" text-anchor="middle" textLength="37" lengthAdjust="spacingAndGlyphs">A</text>
<rect x="515" y="300" width="81" height="46" fill="#ffffff"/>
<path d="M516.5,302 V344 L594.5,302 V344 Z" fill="#ffffff" stroke="#7c7d8a" stroke-width="2.2"/>
<path d="M556,323 V296" stroke="#8a8b98" stroke-width="3"/>
<path d="M538.5,296 H572.5 A17,13 0 0 0 538.5,296 Z" fill="#f4f4f6" stroke="#7c7d8a" stroke-width="2.2"/>
<text x="557.4" y="404.3" font-family="Liberation Sans, sans-serif" font-size="51.5" fill="#6c6c71" text-anchor="middle" textLength="30" lengthAdjust="spacingAndGlyphs">B</text>
<path d="M1442.5,63.5 H1665.5 V299.5 L1564.5,398 H1542.5 L1442.5,299.5 Z" fill="#585d71" stroke="none"/>
<path d="M1542.8,399 L1442.5,299.5 V63.5 H1665.5 V299.5 L1564.2,399" fill="none" stroke="#45444a" stroke-width="2.4"/>
<path d="M1446,66 V298 L1544,395 M1662,66 V298 L1563.5,395" fill="none" stroke="#ffffff" stroke-width="3"/>
<path d="M1449.3,70 V297 L1545.5,392.5 M1658.7,70 V297 L1562,392.5" fill="none" stroke="#4a484c" stroke-width="2"/>
<rect x="1450.3" y="73" width="207.4" height="101.5" fill="url(#gHopTop)"/>
<rect x="1442" y="62.4" width="224.4" height="4.5" fill="#c9c9c9"/>
<rect x="1447.5" y="66.5" width="213" height="7" fill="#8e8b8c"/>
<rect x="1450.3" y="174" width="207.4" height="2.6" fill="#4b4f60"/>
<circle cx="1501.1" cy="123.3" r="37.2" fill="#00a4e2"/><text x="1501.4" y="137.7" font-family="Liberation Sans, sans-serif" font-size="46.5" fill="#d3e4ee" text-anchor="middle">6</text>
<path d="M1614.5,210.5 H1659" stroke="#ffffff" stroke-width="3" stroke-dasharray="9.6,4.6" fill="none"/>
<path d="M1666.5,210.5 H1949" stroke="#55586b" stroke-width="3" stroke-dasharray="9.6,4.6" fill="none"/>
<text x="1969.5" y="217.6" font-family="Liberation Sans, sans-serif" font-size="36" fill="#7c7c82" textLength="193" lengthAdjust="spacingAndGlyphs">Raw material</text>
<rect x="1602" y="399" width="334" height="187.5" fill="#9fa0ae"/>
<rect x="1629" y="427.3" width="197.6" height="131.6" fill="#e6e6eb" stroke="#3e465c" stroke-width="8.6"/>
<rect x="1862.8" y="423.4" width="41" height="41.3" fill="#d0d0d8"/>
<rect x="1862.8" y="471.8" width="41" height="41.3" fill="#d0d0d8"/>
<rect x="1862.8" y="520.7" width="41" height="41.3" fill="#d0d0d8"/>
<text x="1616.3" y="668.7" font-family="Liberation Sans, sans-serif" font-size="36" fill="#8f8f97" text-anchor="middle" textLength="67" lengthAdjust="spacingAndGlyphs">Dust</text>
<text x="1619.6" y="709.5" font-family="Liberation Sans, sans-serif" font-size="36" fill="#8f8f97" text-anchor="middle" textLength="148.5" lengthAdjust="spacingAndGlyphs">extraction</text>
<path d="M1524.2,745.5 H1710.4 L1725,783.3 H1508.4 Z" fill="url(#gMetal)" stroke="#2a2b31" stroke-width="1.6"/>
<rect x="1502.8" y="783.8" width="227.6" height="12.2" fill="url(#gMetal)" stroke="#1e1f24" stroke-width="2.6" stroke-linejoin="miter"/>
<rect x="1508.6" y="796" width="217.4" height="12.2" fill="url(#gMetal)" stroke="#1e1f24" stroke-width="2.6" stroke-linejoin="miter"/>
<rect x="1502.8" y="808.2" width="227.6" height="88" fill="url(#gMetal)" stroke="#1e1f24" stroke-width="2.6" stroke-linejoin="miter"/>
<rect x="1508.6" y="896.2" width="218" height="10.2" fill="url(#gMetal)" stroke="#1e1f24" stroke-width="2.6" stroke-linejoin="miter"/>
<rect x="1502.8" y="906.4" width="227.6" height="158" fill="url(#gMetal)" stroke="#1e1f24" stroke-width="2.6" stroke-linejoin="miter"/>
<path d="M1502,1064.5 H1732 L1737.3,1075.6 H1497.6 Z" fill="url(#gMetal)" stroke="#55586a" stroke-width="1"/>
<rect x="1675.3" y="918.5" width="5.8" height="5.2" fill="#2b2e3b"/>
<rect x="1675.3" y="928.9" width="5.8" height="5.2" fill="#2b2e3b"/>
<rect x="1675.3" y="939.3" width="5.8" height="5.2" fill="#2b2e3b"/>
<rect x="1675.3" y="949.7" width="5.8" height="5.2" fill="#2b2e3b"/>
<rect x="1675.3" y="960.1" width="5.8" height="5.2" fill="#2b2e3b"/>
<rect x="1675.3" y="970.5" width="5.8" height="5.2" fill="#2b2e3b"/>
<rect x="1675.3" y="980.9" width="5.8" height="5.2" fill="#2b2e3b"/>
<rect x="1675.3" y="991.3" width="5.8" height="5.2" fill="#2b2e3b"/>
<rect x="1675.3" y="1001.7" width="5.8" height="5.2" fill="#2b2e3b"/>
<rect x="1675.3" y="1012.1" width="5.8" height="5.2" fill="#2b2e3b"/>
<rect x="1675.3" y="1022.5" width="5.8" height="5.2" fill="#2b2e3b"/>
<rect x="1675.3" y="1032.9" width="5.8" height="5.2" fill="#2b2e3b"/>
<rect x="1675.3" y="1043.3" width="5.8" height="5.2" fill="#2b2e3b"/>
<path d="M1694.4,918 C1705,935 1705,956 1694.4,974 C1684,956 1684,935 1694.4,918 Z" fill="url(#gFanBlade)" stroke="#4a4c58" stroke-width="1.4"/>
<path d="M1694.4,997 C1705,1015 1705,1036 1694.4,1052.5 C1684,1036 1684,1015 1694.4,997 Z" fill="url(#gFanBlade)" stroke="#4a4c58" stroke-width="1.4"/>
<rect x="1723.2" y="918.2" width="6.2" height="15.2" fill="#e8e8ec" stroke="#1e1f24" stroke-width="2"/>
<rect x="1723.2" y="940.1" width="6.2" height="14.7" fill="#e8e8ec" stroke="#1e1f24" stroke-width="2"/>
<rect x="1723.2" y="958.2" width="6.2" height="15.8" fill="#e8e8ec" stroke="#1e1f24" stroke-width="2"/>
<rect x="1723.2" y="995.4" width="6.2" height="14.7" fill="#e8e8ec" stroke="#1e1f24" stroke-width="2"/>
<rect x="1723.2" y="1014.6" width="6.2" height="17" fill="#e8e8ec" stroke="#1e1f24" stroke-width="2"/>
<rect x="1723.2" y="1036.1" width="6.2" height="15.8" fill="#e8e8ec" stroke="#1e1f24" stroke-width="2"/>
<rect x="1704" y="978.6" width="19.5" height="12" fill="url(#gHub)" stroke="#1e1f24" stroke-width="1.6"/>
<rect x="1685.3" y="976" width="18.6" height="19.6" fill="url(#gHub)" stroke="#1e1f24" stroke-width="2.4"/>
<path d="M1723.5,975.6 H1904 V968 L1953.5,984.6 L1904,1002.4 V993.4 H1723.5 Z" fill="#5bb9e8"/>
<circle cx="1794.1" cy="921" r="36.8" fill="#00a4e2"/><text x="1794.4" y="935.4" font-family="Liberation Sans, sans-serif" font-size="46.5" fill="#d3e4ee" text-anchor="middle">5</text>
<text x="1981" y="973.4" font-family="Liberation Sans, sans-serif" font-size="36" fill="#7c7c82" textLength="112.5" lengthAdjust="spacingAndGlyphs">Exhaust</text>
<text x="1980.3" y="1013.5" font-family="Liberation Sans, sans-serif" font-size="36" fill="#7c7c82" textLength="156" lengthAdjust="spacingAndGlyphs">ventilation</text>
</svg>
</body></html>
